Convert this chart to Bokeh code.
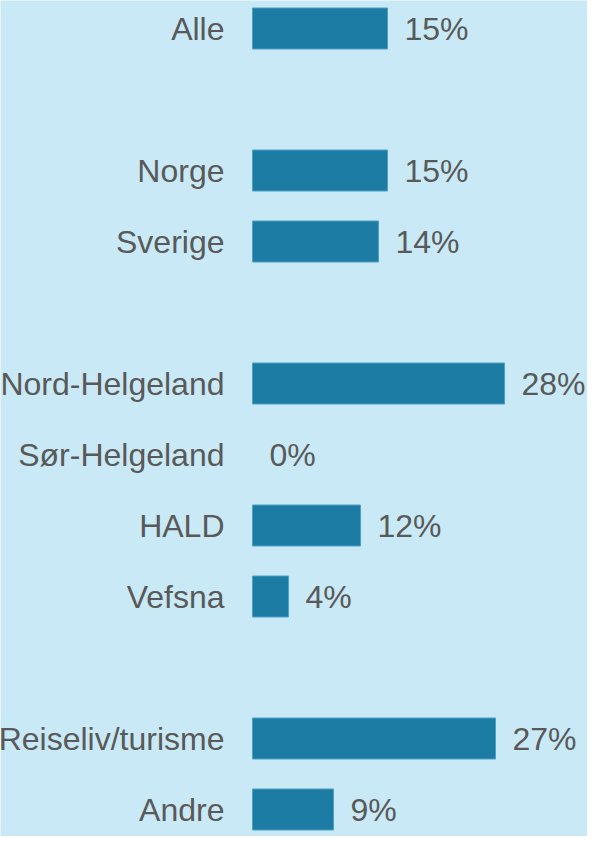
from bokeh.plotting import figure
from bokeh.models import ColumnDataSource, Range1d
from bokeh.core.properties import value
from bokeh.embed import file_html
from bokeh.resources import INLINE

# Data
groups = [
    ["Alle"],
    ["Norge", "Sverige"],
    ["Nord-Helgeland", "Sør-Helgeland", "HALD", "Vefsna"],
    ["Reiseliv/turisme", "Andre"],
]
values = {
    "Alle": 15,
    "Norge": 15,
    "Sverige": 14,
    "Nord-Helgeland": 28,
    "Sør-Helgeland": 0,
    "HALD": 12,
    "Vefsna": 4,
    "Reiseliv/turisme": 27,
    "Andre": 9,
}

cats, vals, rows = [], [], []
r = 0
for g in groups:
    for c in g:
        cats.append(c)
        vals.append(values[c])
        rows.append(r)
        r += 1
    r += 1  # gap between groups

src = ColumnDataSource(dict(
    cat=cats, val=vals, row=rows,
    lab=[f"{v}%" for v in vals],
))

W, H = 587, 836
px_per_unit = 9.0
bar_start_px = 252
row_px = 71.0
first_center_px = 28

x0 = -bar_start_px / px_per_unit
y_top = -first_center_px / row_px

p = figure(
    width=W, height=H, output_backend="svg", toolbar_location=None,
    x_range=Range1d(x0, x0 + W / px_per_unit),
    y_range=Range1d(y_top + H / row_px, y_top),
    min_border=0, outline_line_color=None,
    background_fill_color="#c9e9f6", border_fill_color="#c9e9f6",
)
p.axis.visible = False
p.grid.visible = False

bar_src = ColumnDataSource(dict(
    row=[rw for rw, v in zip(rows, vals) if v > 0],
    val=[v for v in vals if v > 0],
))
p.hbar(y="row", left=0, right="val", height=41 / row_px, source=bar_src,
       fill_color="#1c7ca3", line_color="#4d9fc4", line_width=1)

font = value("Liberation Sans")
p.text(x=0, y="row", text="cat", source=src, x_offset=-28,
       text_align="right", text_baseline="middle",
       text_font=font, text_font_size="32px", text_color="#595959")
p.text(x="val", y="row", text="lab", source=src, x_offset=17,
       text_align="left", text_baseline="middle",
       text_font=font, text_font_size="32px", text_color="#595959")

open("out.html", "w").write(file_html(p, INLINE))
